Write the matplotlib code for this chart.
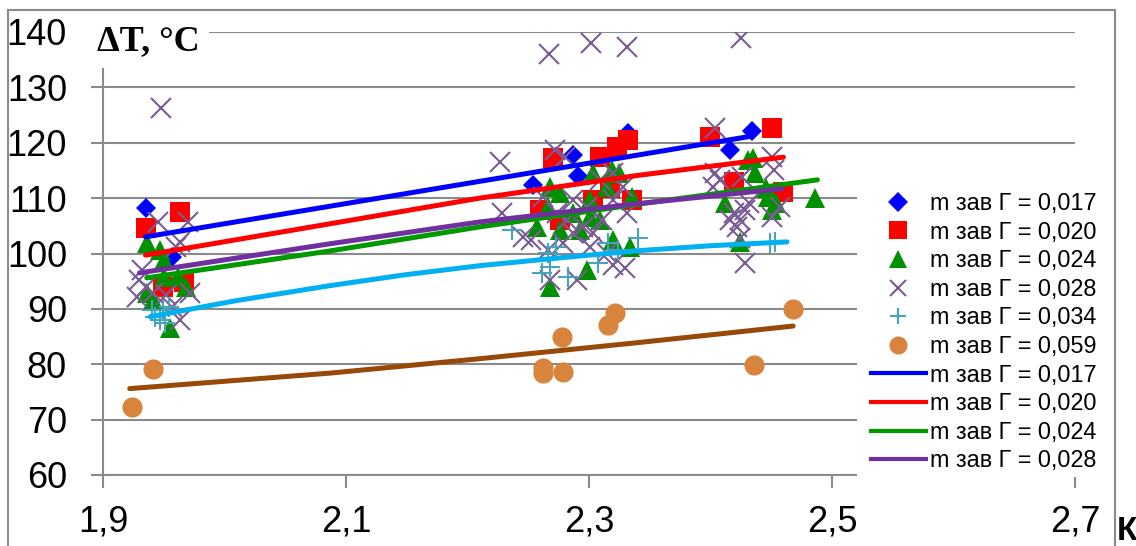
import matplotlib
matplotlib.use("Agg")
import matplotlib.pyplot as plt
from matplotlib import font_manager
from matplotlib.lines import Line2D
from matplotlib.patches import Rectangle

# --- data ---
x_017 = [1.935, 1.957, 2.254, 2.287, 2.291, 2.332, 2.416, 2.434]
y_017 = [108.2, 99.4, 112.4, 117.8, 114.0, 121.8, 118.7, 122.1]

x_020 = [1.935, 1.963, 1.949, 1.967, 2.260, 2.270, 2.276, 2.303, 2.309,
         2.317, 2.323, 2.332, 2.335, 2.400, 2.419, 2.451, 2.460]
y_020 = [104.6, 107.5, 94.0, 94.9, 107.9, 117.3, 106.1, 109.7, 117.4,
         111.8, 119.2, 120.5, 109.7, 121.0, 112.9, 122.7, 111.1]

x_024 = [1.936, 1.947, 1.950, 1.936, 1.941, 1.962, 1.955, 1.950, 1.968,
         2.268, 2.266, 2.276, 2.257, 2.293, 2.301, 2.303, 2.319, 2.325,
         2.315, 2.334, 2.298, 2.268, 2.320, 2.287, 2.309, 2.335, 2.276, 2.301,
         2.431, 2.435, 2.437, 2.412, 2.447, 2.454, 2.451, 2.486, 2.424, 2.446]
y_024 = [101.9, 100.6, 98.8, 92.9, 91.6, 95.8, 86.6, 95.8, 94.0,
         112.0, 108.4, 104.3, 104.8, 104.3, 109.7, 114.5, 115.1, 114.5,
         112.0, 101.2, 97.0, 94.0, 102.5, 107.3, 106.1, 110.2, 110.9, 106.6,
         116.9, 117.3, 114.5, 109.1, 110.2, 109.1, 107.9, 110.0, 102.1, 111.8]

x_028 = [1.948, 2.267, 2.302, 2.331, 2.425, 2.227, 2.228,
         1.945, 1.970, 1.963, 1.932, 1.930, 1.935, 1.928, 1.941, 1.952,
         1.972, 1.963, 1.957, 1.960,
         2.272, 2.280, 2.262, 2.246, 2.252, 2.266, 2.279, 2.287, 2.295,
         2.303, 2.311, 2.309, 2.328, 2.331, 2.268, 2.290, 2.330, 2.320,
         2.315, 2.301, 2.298, 2.287, 2.320, 2.320, 2.274, 2.282,
         2.404, 2.451, 2.452, 2.404, 2.408, 2.402, 2.419, 2.416, 2.424,
         2.428, 2.432, 2.422, 2.451, 2.457, 2.424, 2.428, 2.426]
y_028 = [126.3, 136.0, 138.0, 137.3, 138.9, 116.5, 107.3,
         105.7, 105.7, 102.1, 97.0, 95.2, 94.0, 92.2, 92.9, 92.5,
         92.9, 88.0, 90.4, 101.2,
         118.7, 117.4, 110.2, 103.0, 102.5, 100.7, 101.9, 103.7, 104.8,
         103.7, 106.1, 113.3, 112.0, 107.3, 95.2, 95.2, 97.4, 97.9,
         100.1, 101.2, 108.4, 109.7, 109.7, 114.5, 107.3, 106.1,
         122.7, 117.4, 115.1, 114.5, 113.3, 112.0, 107.3, 106.1, 106.1,
         107.9, 109.1, 104.8, 106.6, 108.4, 102.8, 98.3, 113.8]

x_034 = [1.940, 1.949, 1.947, 1.943, 1.951, 1.954,
         2.237, 2.340, 2.268, 2.261, 2.283, 2.316, 2.307, 2.324, 2.266, 2.273,
         2.453, 2.449]
y_034 = [89.8, 89.8, 88.0, 88.6, 87.5, 90.4,
         104.3, 102.8, 97.6, 96.5, 95.8, 101.9, 98.3, 100.7, 100.1, 101.2,
         102.1, 101.9]

x_059 = [1.924, 1.941, 2.262, 2.262, 2.279, 2.278, 2.321, 2.316, 2.436, 2.468]
y_059 = [72.3, 79.2, 79.4, 78.5, 78.6, 85.0, 89.3, 87.1, 79.9, 90.0]

# trend lines, points
tx_017 = [1.935, 2.434]
ty_017 = [103.0, 121.2]
tx_020 = [1.935, 2.085, 2.210, 2.340, 2.460]
ty_020 = [99.7, 105.3, 110.0, 114.1, 117.4]
tx_024 = [1.936, 2.085, 2.210, 2.350, 2.488]
ty_024 = [95.6, 100.4, 104.8, 109.2, 113.3]
tx_028 = [1.930, 2.085, 2.210, 2.340, 2.459]
ty_028 = [96.5, 101.7, 105.7, 109.0, 111.7]
tx_034 = [1.939, 2.010, 2.087, 2.150, 2.210, 2.280, 2.340, 2.400, 2.463]
ty_034 = [88.6, 91.5, 94.2, 96.2, 97.8, 99.3, 100.5, 101.4, 102.1]
tx_059 = [1.922, 2.087, 2.210, 2.340, 2.468]
ty_059 = [75.6, 78.4, 81.0, 83.9, 86.9]

labels = ["m зав Г = 0,017", "m зав Г = 0,020", "m зав Г = 0,024",
          "m зав Г = 0,028", "m зав Г = 0,034", "m зав Г = 0,059"]
xticks = [1.9, 2.1, 2.3, 2.5, 2.7]
yticks = [60, 70, 80, 90, 100, 110, 120, 130, 140]


def pick_font(names):
    for n in names:
        try:
            font_manager.findfont(n, fallback_to_default=False)
            return n
        except Exception:
            pass
    return "DejaVu Sans"


tick_font = pick_font(["Liberation Sans Narrow", "Liberation Sans"])
sans = pick_font(["Liberation Sans", "DejaVu Sans"])
serif = pick_font(["Liberation Serif", "DejaVu Serif"])
plt.rcParams["font.family"] = [sans, "DejaVu Sans"]

grey = "#8a8a8a"

fig = plt.figure(figsize=(11.36, 5.46), dpi=100)
ax = fig.add_axes([103 / 1136, 1 - 475 / 546, (1075 - 103) / 1136, (475 - 32) / 546])

# scatter series
ax.plot(x_017, y_017, ls="none", marker="D", ms=10.5, mew=0, color="#0000ff")
ax.plot(x_020, y_020, ls="none", marker="s", ms=15, mew=0, color="#ff0000")
ax.plot(x_024, y_024, ls="none", marker="^", ms=15, mew=0, color="#009000")
ax.plot(x_028, y_028, ls="none", marker="x", ms=14, mew=1.5, color="#7a5c94")
ax.plot(x_034, y_034, ls="none", marker="+", ms=14, mew=1.5, color="#4aa3bd")
ax.plot(x_059, y_059, ls="none", marker="o", ms=14.5, mew=0, color="#d8843c")

# trend lines
lw = 3.6
ax.plot(tx_017, ty_017, color="#0000ff", lw=lw, solid_capstyle="round")
ax.plot(tx_020, ty_020, color="#ff0000", lw=lw, solid_capstyle="round")
ax.plot(tx_024, ty_024, color="#009900", lw=lw, solid_capstyle="round")
ax.plot(tx_028, ty_028, color="#7030a0", lw=lw, solid_capstyle="round")
ax.plot(tx_034, ty_034, color="#00b0f0", lw=lw, solid_capstyle="round")
ax.plot(tx_059, ty_059, color="#984807", lw=lw, solid_capstyle="round")

ax.set_xlim(1.9, 2.7)
ax.set_ylim(60, 140)
ax.set_xticks(xticks)
ax.set_xticklabels([f"{v:.1f}".replace(".", ",") for v in xticks])
ax.set_yticks(yticks)
ax.set_yticklabels([str(v) for v in yticks])
for lab in ax.get_xticklabels() + ax.get_yticklabels():
    lab.set_fontfamily(tick_font)
    lab.set_fontsize(26)
ax.tick_params(axis="y", length=9, width=1.5, color=grey, pad=17)
ax.tick_params(axis="x", length=9, width=1.5, color=grey, pad=12)
ax.yaxis.grid(True, color=grey, lw=1.5)
ax.set_axisbelow(True)
for side in ["top", "right"]:
    ax.spines[side].set_visible(False)
for side in ["left", "bottom"]:
    ax.spines[side].set_color(grey)
    ax.spines[side].set_linewidth(1.5)

# white legend area hiding the gridlines (but not the 2,7 tick below the axis)
ax.add_patch(Rectangle((857 / 1136, 1 - 477 / 546), (1110 - 857) / 1136, (477 - 185) / 546,
                       transform=fig.transFigure, facecolor="white",
                       edgecolor="none", clip_on=False, zorder=2.6))

# legend
handles = [
    Line2D([], [], ls="none", marker="D", ms=10, mew=0, color="#0000ff"),
    Line2D([], [], ls="none", marker="s", ms=13, mew=0, color="#ff0000"),
    Line2D([], [], ls="none", marker="^", ms=13, mew=0, color="#009000"),
    Line2D([], [], ls="none", marker="x", ms=12, mew=1.5, color="#7a5c94"),
    Line2D([], [], ls="none", marker="+", ms=12, mew=1.5, color="#4aa3bd"),
    Line2D([], [], ls="none", marker="o", ms=13, mew=0, color="#d8843c"),
    Line2D([], [], color="#0000ff", lw=3),
    Line2D([], [], color="#ff0000", lw=3),
    Line2D([], [], color="#009900", lw=3),
    Line2D([], [], color="#7030a0", lw=3),
]
leg = fig.legend(handles, labels + labels[:4], loc="upper left",
                 bbox_to_anchor=(857 / 1136, 1 - 178 / 546),
                 prop={"family": sans, "size": 16.8}, frameon=False,
                 borderpad=0.6, handlelength=2.35, handletextpad=0.2,
                 labelspacing=0.24, borderaxespad=0)

# axis titles
fig.text(97 / 1136, 1 - 42 / 546, "ΔT, °C", family=serif, weight="bold",
         fontsize=26, ha="left", va="center",
         bbox=dict(boxstyle="square,pad=0.25", facecolor="white", edgecolor="none"))
fig.text(1117 / 1136, 1 - 531 / 546, "К", family=sans, weight="bold",
         fontsize=24, ha="left", va="center")

# outer chart border
fig.patches.append(Rectangle((8 / 1136, -0.05), (1115 - 8) / 1136, 1.05 - 10 / 546,
                             transform=fig.transFigure, fill=False,
                             edgecolor=grey, lw=1.5))

fig.savefig("out.png", dpi=100)
